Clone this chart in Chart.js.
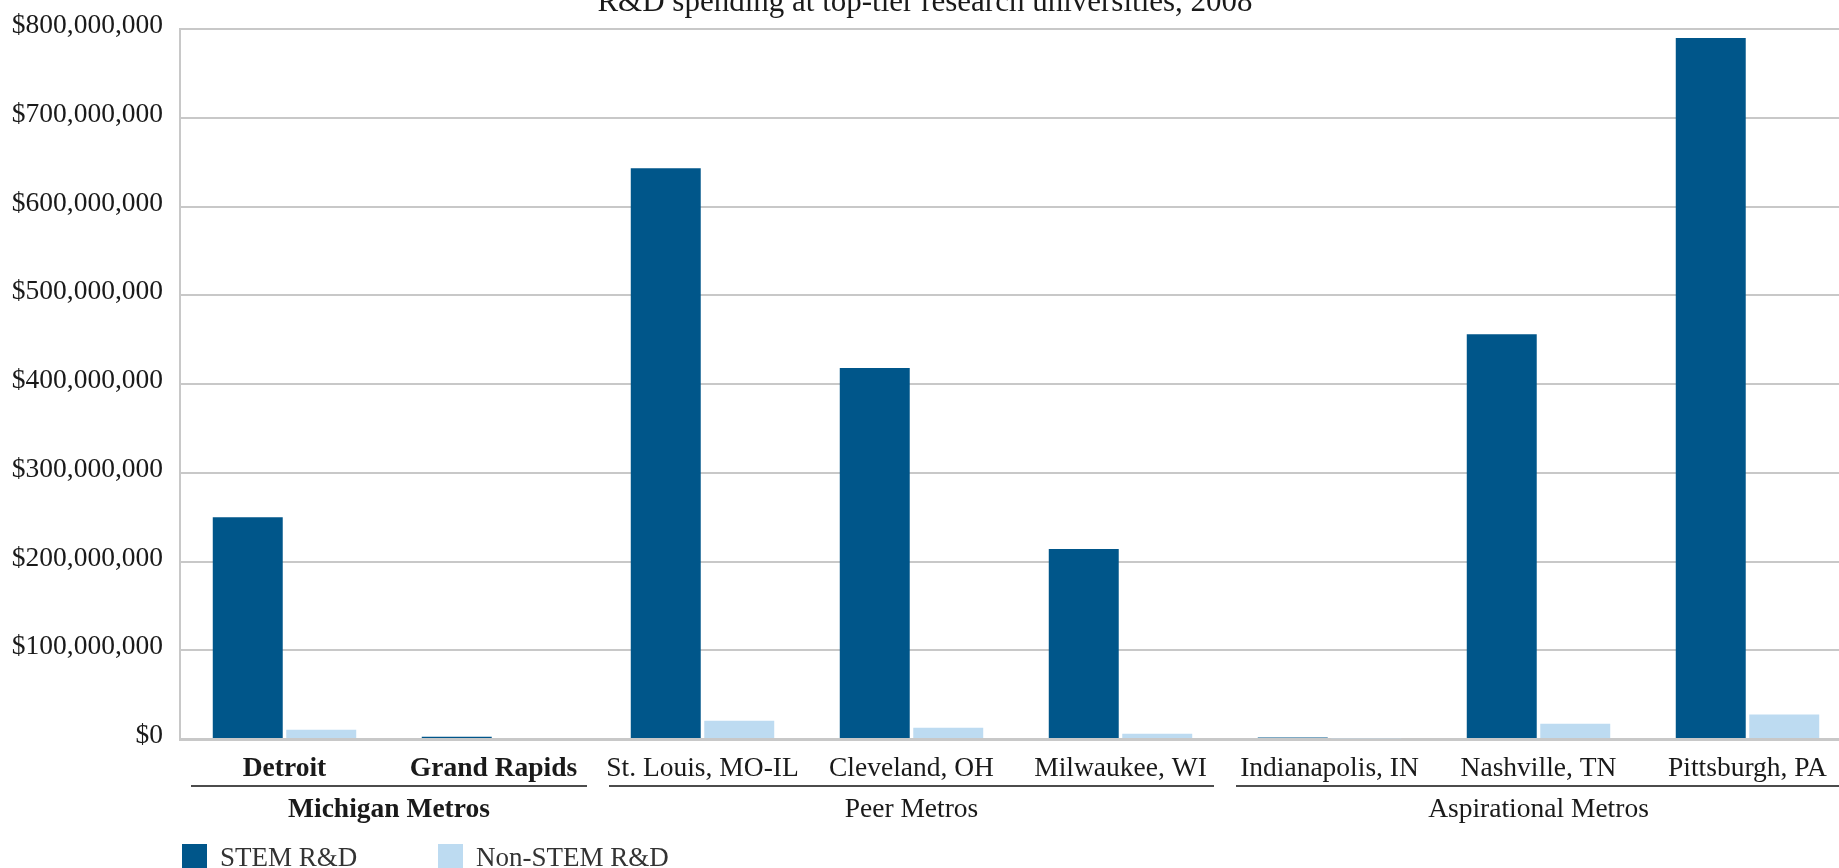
<!DOCTYPE html>
<html>
<head>
<meta charset="utf-8">
<title>R&amp;D spending at top-tier research universities, 2008</title>
<script src="https://cdn.jsdelivr.net/npm/chart.js@4.4.1/dist/chart.umd.min.js"></script>
<style>
  html, body { margin: 0; padding: 0; background: #ffffff; overflow: hidden; }
  #wrap { width: 1839px; height: 868px; overflow: hidden; position: relative; }
  canvas { display: block; }
</style>
</head>
<body>
<div id="wrap"><canvas id="chart" width="1853" height="868"></canvas></div>
<script>
// Metro areas along the x axis
const metros = [
  'Detroit', 'Grand Rapids',
  'St. Louis, MO-IL', 'Cleveland, OH', 'Milwaukee, WI',
  'Indianapolis, IN', 'Nashville, TN', 'Pittsburgh, PA'
];
// Metros whose labels are set in bold
const boldMetros = ['Detroit', 'Grand Rapids'];

// R&D spending, dollars
const stemRD = [250000000, 2600000, 643000000, 418000000, 214000000, 1800000, 456000000, 790000000];
const nonStemRD = [10500000, 1000000, 20600000, 12700000, 6000000, 800000, 17200000, 27500000];

// Metro groupings: label, first and last category index
const groupNames = ['Michigan Metros', 'Peer Metros', 'Aspirational Metros'];
const groupFirst = [0, 2, 5];
const groupLast = [1, 4, 7];
const groupBold = [true, false, false];

const yTicks = [0, 100000000, 200000000, 300000000, 400000000, 500000000, 600000000, 700000000, 800000000];

const chartTitle = 'R&D spending at top-tier research universities, 2008';
const seriesNames = ['STEM R&D', 'Non-STEM R&D'];
const seriesColors = ['#00568a', '#bddbf1'];

const FONT = '"Liberation Serif", "Times New Roman", serif';
const INK = '#1a1a1a';
const GRID = '#c8c8c8';
const LABEL_SIZE = 27.5;

const fmtMoney = v => '$' + Number(v).toLocaleString('en-US');

// Title, metro group brackets and legend
const decorations = {
  id: 'decorations',
  afterDraw(chart) {
    const ctx = chart.ctx;
    const x = chart.scales.x;
    const half = (x.getPixelForValue(1) - x.getPixelForValue(0)) / 2;
    ctx.save();

    // title (runs off the top edge)
    ctx.fillStyle = INK;
    ctx.font = '31px ' + FONT;
    ctx.textAlign = 'center';
    ctx.textBaseline = 'alphabetic';
    ctx.fillText(chartTitle, 925, 11);

    // group rules and names
    for (let g = 0; g < groupNames.length; g++) {
      const x1 = x.getPixelForValue(groupFirst[g]) - half + 11;
      const x2 = x.getPixelForValue(groupLast[g]) + half - 11;
      ctx.strokeStyle = '#111111';
      ctx.lineWidth = 1.6;
      ctx.beginPath();
      ctx.moveTo(x1, 786);
      ctx.lineTo(x2, 786);
      ctx.stroke();
      const cx = (x.getPixelForValue(groupFirst[g]) + x.getPixelForValue(groupLast[g])) / 2;
      ctx.font = (groupBold[g] ? 'bold ' : '') + LABEL_SIZE + 'px ' + FONT;
      ctx.textAlign = 'center';
      ctx.textBaseline = 'middle';
      ctx.fillStyle = INK;
      ctx.fillText(groupNames[g], cx, 810);
    }

    // legend
    const lx = [182, 438];
    chart.data.datasets.forEach((ds, i) => {
      ctx.fillStyle = ds.backgroundColor;
      ctx.fillRect(lx[i], 844, 25, 25);
      ctx.fillStyle = '#333333';
      ctx.font = '27px ' + FONT;
      ctx.textAlign = 'left';
      ctx.textBaseline = 'alphabetic';
      ctx.fillText(ds.label, lx[i] + 38, 866);
    });
    ctx.restore();
  }
};

new Chart(document.getElementById('chart'), {
  type: 'bar',
  data: {
    labels: metros,
    datasets: [
      { label: seriesNames[0], data: stemRD, backgroundColor: seriesColors[0] },
      { label: seriesNames[1], data: nonStemRD, backgroundColor: seriesColors[1] }
    ]
  },
  options: {
    responsive: false,
    animation: false,
    devicePixelRatio: 1,
    layout: { padding: { top: 29, left: 0, right: 1, bottom: 0 } },
    categoryPercentage: 0.7033,
    barPercentage: 0.952,
    plugins: {
      legend: { display: false },
      title: { display: false },
      tooltip: { enabled: false }
    },
    scales: {
      x: {
        grid: { display: false, drawTicks: false },
        border: { display: true, color: GRID, width: 3 },
        ticks: {
          color: INK,
          padding: 13,
          maxRotation: 0,
          autoSkip: false,
          font: (c) => ({
            family: FONT,
            size: LABEL_SIZE,
            weight: boldMetros.includes(metros[c.index]) ? 'bold' : 'normal'
          })
        },
        afterFit: (s) => { s.height = 129; }
      },
      y: {
        min: 0,
        max: 800000000,
        afterBuildTicks: (s) => { s.ticks = yTicks.map(v => ({ value: v })); },
        grid: { color: GRID, lineWidth: 2, drawTicks: false },
        border: { display: true, color: GRID, width: 2 },
        ticks: {
          color: INK,
          padding: 17,
          labelOffset: -3,
          font: { family: FONT, size: LABEL_SIZE },
          callback: (v) => fmtMoney(v)
        },
        afterFit: (s) => { s.width = 180; s.paddingTop = 0; s.paddingBottom = 0; }
      }
    }
  },
  plugins: [decorations]
});
</script>
</body>
</html>
